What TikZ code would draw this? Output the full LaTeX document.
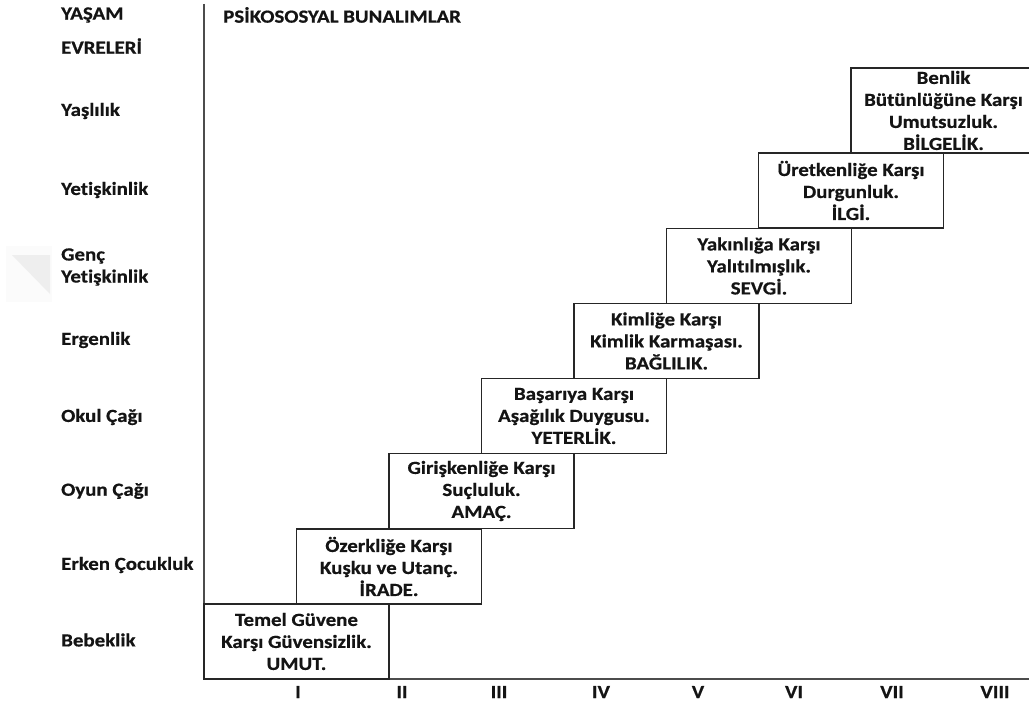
\documentclass[tikz,border=0pt]{standalone}
\usepackage{fontspec}
\setmainfont{Carlito}[BoldFont={* Bold},Ligatures=NoCommon,
  BoldFeatures={FakeStretch=1.13,FakeBold=0.6,Ligatures=NoCommon}]
\begin{document}
\begin{tikzpicture}[x=1pt,y=-1pt,
  txt/.style={font=\bfseries\fontsize{18.5}{22}\selectfont, text=black!92, inner sep=0pt},
  stagelabel/.style={txt, anchor=west, align=left},
  crisis/.style={draw=black!85, line width=1.5pt, rectangle, inner sep=0pt, outer sep=0pt,
                 minimum width=185pt, minimum height=75pt, align=center,
                 font=\bfseries\fontsize{18.5}{22}\selectfont, text=black!92},
  axis/.style={draw=black!70, line width=2pt},
  numeral/.style={txt, anchor=center}]
\clip (0,0) rectangle (1029,706);
\fill[white] (0,0) rectangle (1029,706);

% faint corner mark at the left
\fill[gray!3] (6,246) rectangle (52,302);
\fill[gray!13] (12,255) -- (50,255) -- (50,294) -- cycle;

% axes
\coordinate (ytop) at (204,4);
\coordinate (origin) at (204,679);
\coordinate (xend) at (1031,679);
\draw[axis] (ytop) -- (origin) -- (xend);

% headings
\node[stagelabel] (h1) at (61,15) {YAŞAM};
\node[stagelabel] (h2) at (61,46) {EVRELERİ};
\node[txt, anchor=west] (h3) at (223,15) {PSİKOSOSYAL BUNALIMLAR};

% life stages
\node[stagelabel] (s8) at (61,111) {Yaşlılık};
\node[stagelabel] (s7) at (61,190) {Yetişkinlik};
\node[stagelabel] (s6) at (61,267) {Genç\\Yetişkinlik};
\node[stagelabel] (s5) at (61,340) {Ergenlik};
\node[stagelabel] (s4) at (61,417) {Okul Çağı};
\node[stagelabel] (s3) at (61,491) {Oyun Çağı};
\node[stagelabel] (s2) at (61,565) {Erken Çocukluk};
\node[stagelabel] (s1) at (61,640) {Bebeklik};

% crisis boxes, one step up and half a column right each time
\node[crisis] (c1) at (296.5,641.5) {Temel Güvene\\Karşı Güvensizlik.\\UMUT.};
\node[crisis] (c2) at (389,566.5) {Özerkliğe Karşı\\Kuşku ve Utanç.\\İRADE.};
\node[crisis] (c3) at (481.5,491) {Girişkenliğe Karşı\\Suçluluk.\\AMAÇ.};
\node[crisis] (c4) at (574,416) {Başarıya Karşı\\Aşağılık Duygusu.\\YETERLİK.};
\node[crisis] (c5) at (666.5,341) {Kimliğe Karşı\\Kimlik Karmaşası.\\BAĞLILIK.};
\node[crisis] (c6) at (759,266) {Yakınlığa Karşı\\Yalıtılmışlık.\\SEVGİ.};
\node[crisis] (c7) at (851,190.5) {Üretkenliğe Karşı\\Durgunluk.\\İLGİ.};
\node[crisis, minimum height=85pt] (c8) at (943.5,110.5) {Benlik\\Bütünlüğüne Karşı\\Umutsuzluk.\\BİLGELİK.};

% column numerals
\node[numeral] (n1) at (298,692) {I};
\node[numeral] (n2) at (402,692) {II};
\node[numeral] (n3) at (499,692) {III};
\node[numeral] (n4) at (601,692) {IV};
\node[numeral] (n5) at (698,692) {V};
\node[numeral] (n6) at (794,692) {VI};
\node[numeral] (n7) at (892,692) {VII};
\node[numeral] (n8) at (995,692) {VIII};
\end{tikzpicture}
\end{document}
